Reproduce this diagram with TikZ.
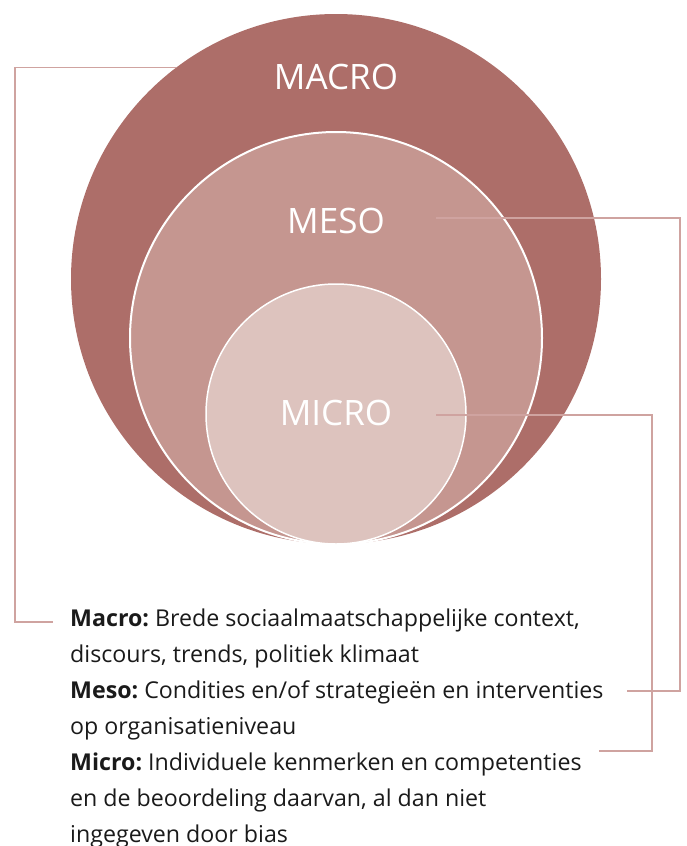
\documentclass[tikz,border=0pt]{standalone}
\usepackage{fontspec}
\setmainfont{Open Sans}
\usetikzlibrary{positioning, calc}
\definecolor{MacroRose}{HTML}{AD6E69}
\definecolor{MesoRose}{HTML}{C59690}
\definecolor{MicroRose}{HTML}{DDC3BE}
\definecolor{LeaderRose}{HTML}{CFA3A0}
\definecolor{Ink}{HTML}{1A1A1A}
\frenchspacing

\begin{document}
\begin{tikzpicture}[
    x=1pt, y=-1pt,
    % Styles for the nested circles
    ring/.style={
        circle,
        inner sep=0pt,
        draw=white
    },
    % Labels inside the circles
    level/.style={
        text=white,
        anchor=base,
        inner sep=0pt,
        font=\fontsize{35}{40}\selectfont
    },
    % Explanation text below (anchored at the last baseline)
    legend/.style={
        text=Ink,
        anchor=base west,
        inner sep=0pt,
        align=left,
        font=\fontsize{23.2}{36}\selectfont
    },
    % Connector line style
    leader/.style={
        draw=LeaderRose,
        line width=1.2pt,
        line cap=butt,
        line join=miter
    }
]
    \useasboundingbox (0,0) rectangle (686,846);

    % --- Circles ---
    \node[ring, fill=MacroRose, draw=none, minimum size=530pt] (macro) at (336,279) {};
    \node[ring, fill=MesoRose, line width=2pt, minimum size=412pt] (meso) at (336,338) {};
    \node[ring, fill=MicroRose, line width=1.5pt, minimum size=260pt] (micro) at (336,414) {};

    % --- Labels ---
    \node[level] (lblmacro) at (336,89) {MACRO};
    \node[level] (lblmeso) at (336,233) {MESO};
    \node[level] (lblmicro) at (336,425) {MICRO};

    % --- Explanation ---
    \node[legend] (txtmacro) at (70,662) {\textbf{Macro:} Brede sociaalmaatschappelijke context,\\discours, trends, politiek klimaat};
    \node[legend] (txtmeso) at (70,734) {\textbf{Meso:} Condities en/of strategieën en interventies\\op organisatieniveau};
    \node[legend] (txtmicro) at (70,842) {\textbf{Micro:} Individuele kenmerken en competenties\\en de beoordeling daarvan, al dan niet\\ingegeven door bias};

    % --- Leaders ---
    \coordinate (macroend) at (53,622);
    \coordinate (mesoend) at (627,691);
    \coordinate (microend) at (599,751);
    \coordinate (mesostart) at (436,218);
    \coordinate (microstart) at (436,415);
    \draw[leader] (macro.127) -| (15,622) -- (macroend);
    \draw[leader] (mesostart) -| (680,691) -- (mesoend);
    \draw[leader] (microstart) -| (652,751) -- (microend);

\end{tikzpicture}
\end{document}
